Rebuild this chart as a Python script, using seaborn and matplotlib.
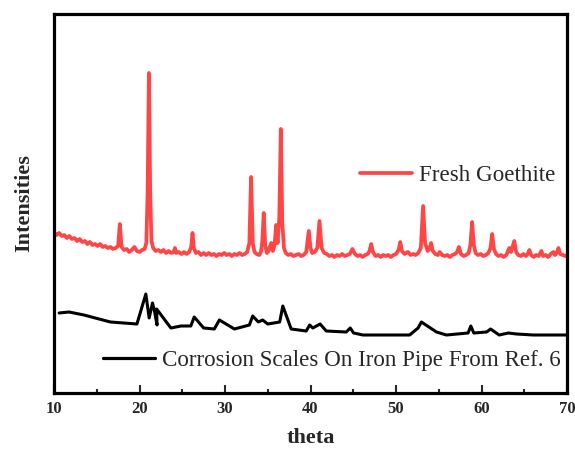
import matplotlib
matplotlib.use("Agg")
import matplotlib.pyplot as plt
import seaborn as sns
import pandas as pd
from matplotlib.lines import Line2D

# ---- data (arbitrary intensity units) ----
goethite_theta = [
    10.0, 10.3, 10.6, 10.9, 11.2, 11.5, 11.8, 12.1, 12.4, 12.7, 13.0, 13.3, 13.6, 13.9, 14.2, 14.5,
    14.8, 15.1, 15.4, 15.7, 16.0, 16.3, 16.6, 16.9, 17.2, 17.5, 17.7, 17.9, 18.2, 18.5, 18.8, 19.1,
    19.4, 19.7, 20.0, 20.3, 20.6, 20.8, 20.95, 21.1, 21.25, 21.4, 21.6, 21.9, 22.2, 22.5, 22.8, 23.1,
    23.4, 23.7, 24.0, 24.15, 24.3, 24.6, 24.9, 25.2, 25.5, 25.8, 26.05, 26.2, 26.35, 26.6, 26.9, 27.2,
    27.5, 27.8, 28.1, 28.4, 28.7, 29.0, 29.3, 29.6, 29.9, 30.2, 30.5, 30.8, 31.1, 31.4, 31.7, 32.0,
    32.3, 32.6, 32.85, 33.05, 33.25, 33.45, 33.7, 34.0, 34.2, 34.35, 34.53, 34.7, 34.9, 35.1, 35.4, 35.6,
    35.8, 35.98, 36.15, 36.35, 36.53, 36.7, 36.9, 37.1, 37.4, 37.7, 38.0, 38.3, 38.6, 38.9, 39.2, 39.5,
    39.8, 40.0, 40.2, 40.5, 40.8, 41.05, 41.3, 41.6, 41.9, 42.2, 42.5, 42.8, 43.1, 43.4, 43.7, 44.0,
    44.3, 44.6, 44.9, 45.2, 45.5, 45.8, 46.1, 46.4, 46.7, 46.9, 47.1, 47.3, 47.6, 47.9, 48.2, 48.5,
    48.8, 49.1, 49.4, 49.7, 50.0, 50.3, 50.5, 50.7, 51.0, 51.4, 51.7, 52.0, 52.3, 52.6, 52.9, 53.17,
    53.4, 53.7, 53.9, 54.1, 54.3, 54.6, 54.9, 55.1, 55.4, 55.7, 56.0, 56.3, 56.6, 56.9, 57.15, 57.35,
    57.6, 57.9, 58.2, 58.5, 58.7, 58.9, 59.1, 59.3, 59.6, 59.9, 60.2, 60.5, 60.8, 61.05, 61.25, 61.45,
    61.7, 62.0, 62.3, 62.6, 62.9, 63.25, 63.45, 63.83, 64.05, 64.3, 64.6, 64.9, 65.2, 65.4, 65.6, 65.8,
    66.1, 66.4, 66.7, 67.0, 67.2, 67.5, 67.8, 68.1, 68.4, 68.6, 68.8, 69.0, 69.2, 69.5, 69.8, 70.0,
]
goethite_int = [
    161, 158, 160, 157, 158, 155, 157, 154, 155, 152, 154, 151, 152, 149, 151, 148,
    149, 147, 149, 146, 147, 145, 146, 144, 145, 147, 169, 146, 143, 144, 141, 143,
    146, 142, 141, 143, 144, 150, 200, 320, 200, 152, 145, 142, 143, 141, 143, 140,
    142, 140, 141, 145, 140, 141, 139, 141, 139, 141, 146, 160, 145, 140, 141, 138,
    140, 138, 140, 138, 139, 137, 139, 138, 140, 138, 139, 137, 139, 138, 140, 138,
    139, 141, 150, 216, 150, 141, 139, 138, 141, 150, 180, 148, 140, 142, 150, 142,
    148, 168, 150, 175, 264, 170, 145, 140, 138, 139, 137, 138, 139, 137, 138, 141,
    162, 145, 140, 141, 145, 172, 145, 140, 139, 137, 138, 136, 138, 137, 139, 137,
    138, 139, 144, 139, 137, 138, 136, 138, 139, 142, 149, 141, 137, 138, 136, 138,
    137, 138, 136, 138, 139, 143, 151, 142, 139, 141, 138, 139, 138, 140, 145, 187,
    150, 142, 144, 150, 142, 139, 138, 141, 138, 137, 138, 136, 138, 139, 141, 146,
    139, 137, 138, 140, 148, 171, 148, 140, 138, 139, 137, 138, 140, 145, 159, 144,
    139, 137, 138, 136, 138, 145, 141, 152, 141, 138, 137, 139, 137, 139, 143, 138,
    136, 138, 137, 142, 137, 138, 136, 139, 141, 138, 140, 145, 139, 138, 137, 138,
]

scales_theta = [
    10.6, 11.76, 13.5, 16.6, 19.7, 20.74, 21.13, 21.52, 21.75, 22.05, 22.0, 23.67, 24.85, 26.0,
    26.4, 27.5, 28.75, 29.34, 31.1, 32.85, 33.24, 33.9, 34.4, 35.0, 36.4, 36.76, 37.74, 39.5,
    39.9, 40.27, 41.13, 41.84, 44.18, 44.65, 45.04, 46.14, 51.6, 52.58, 52.97, 54.73, 55.9,
    58.43, 58.75, 59.1, 60.6, 61.06, 62.07, 63.13, 64.1, 66.05, 69.4, 70.0,
]
scales_int = [
    80, 81, 78, 71, 69, 99, 75, 90, 82, 68, 84, 65, 67, 67,
    76, 65, 64, 73, 64, 68, 77, 71, 73, 69, 71, 87, 64, 62,
    68, 65, 69, 62, 61, 65, 60, 58, 58, 65, 71, 61, 58,
    60, 67, 60, 61, 64, 58, 60, 59, 58, 58, 58,
]

label_goethite = "Fresh Goethite"
label_scales = "Corrosion Scales On Iron Pipe From Ref. 6"
x_ticks = [10, 20, 30, 40, 50, 60, 70]

df_g = pd.DataFrame({"theta": goethite_theta, "I": goethite_int})
df_s = pd.DataFrame({"theta": scales_theta, "I": scales_int})

sns.set_style("white")
plt.rcParams["font.family"] = ["Liberation Serif", "DejaVu Serif"]

fig = plt.figure(figsize=(5.75, 4.5), dpi=100)
ax = fig.add_axes([54 / 575, 1 - 393 / 450, 513 / 575, 379 / 450])

red = "#FF4545"
sns.lineplot(data=df_g, x="theta", y="I", ax=ax, color=red, lw=2.7, sort=False,
             estimator=None)
sns.lineplot(data=df_s, x="theta", y="I", ax=ax, color="black", lw=2.2, sort=False,
             estimator=None)

ax.set_xlim(10, 70)
ax.set_ylim(0, 379)
ax.set_yticks([])
ax.set_xticks(x_ticks)
ax.set_xticklabels([str(t) for t in x_ticks], fontweight="bold", fontsize=12)
ax.set_xticks([15, 25, 35, 45, 55, 65], minor=True)
ax.tick_params(axis="x", which="major", direction="in", length=6, width=1.5,
               bottom=True, top=False, pad=6)
ax.tick_params(axis="x", which="minor", direction="in", length=3, width=1.5,
               bottom=True, top=False)
for s in ax.spines.values():
    s.set_visible(True)
    s.set_color("black")
    s.set_linewidth(2.3)

ax.set_xlabel("theta", fontsize=16, fontweight="bold", labelpad=8)
ax.set_ylabel("Intensities", fontsize=16, fontweight="bold", labelpad=14)

h_red = Line2D([], [], color=red, lw=2.7)
h_blk = Line2D([], [], color="black", lw=2.3)
leg_kw = dict(loc="center left", frameon=False, borderpad=0, borderaxespad=0,
              handlelength=2.25, handletextpad=0.3, prop={"size": 16.6})
leg1 = ax.legend([h_red], [label_goethite], bbox_to_anchor=(0.596, 0.575), **leg_kw)
ax.add_artist(leg1)
ax.legend([h_blk], [label_scales], bbox_to_anchor=(0.0955, 0.087), **leg_kw)

fig.savefig("out.png", dpi=100)
